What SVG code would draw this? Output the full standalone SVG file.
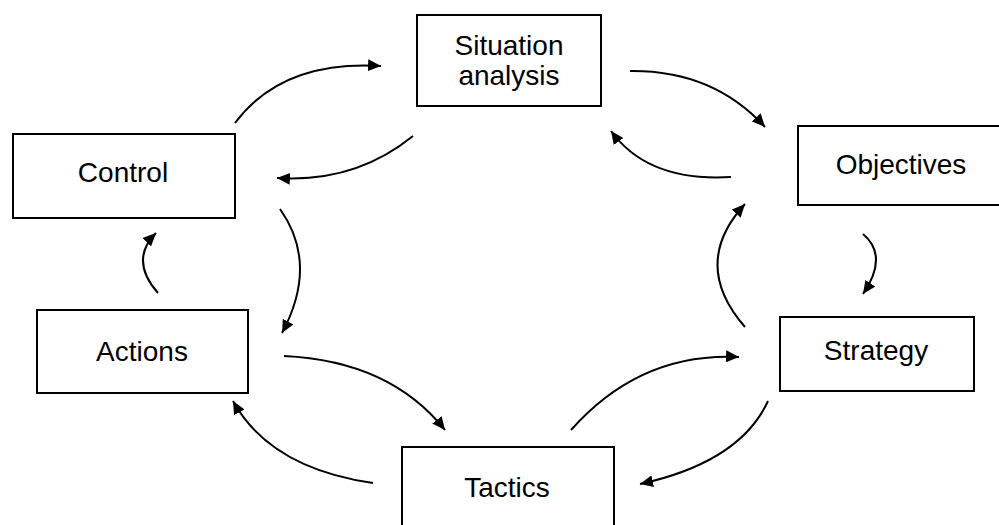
<svg xmlns="http://www.w3.org/2000/svg" width="999" height="525" viewBox="0 0 999 525">
<defs>
<style>
.box{fill:#fff;stroke:#000;stroke-width:2}
.lbl{font-family:"Liberation Sans",Arial,sans-serif;font-size:28px;fill:#000;text-anchor:middle}
.c{fill:none;stroke:#000;stroke-width:2;marker-end:url(#ah)}
</style>
<marker id="ah" markerUnits="userSpaceOnUse" markerWidth="14" markerHeight="12" viewBox="0 0 14 12" refX="13" refY="6" orient="auto">
<path d="M0,0 L13,6 L0,12 Z" fill="#000"/>
</marker>
</defs>
<rect width="999" height="525" fill="#fff"/>
<g id="situation">
<rect class="box" x="417" y="15" width="184" height="91"/>
<text class="lbl" x="509" y="55">Situation</text>
<text class="lbl" x="509" y="85">analysis</text>
</g>
<g id="objectives">
<rect class="box" x="798" y="126" width="208" height="79"/>
<text class="lbl" x="901" y="174">Objectives</text>
</g>
<g id="strategy">
<rect class="box" x="780" y="317" width="194" height="74"/>
<text class="lbl" x="876" y="360">Strategy</text>
</g>
<g id="tactics">
<rect class="box" x="402" y="447" width="212" height="90"/>
<text class="lbl" x="507" y="497">Tactics</text>
</g>
<g id="actions">
<rect class="box" x="37" y="310" width="211" height="83"/>
<text class="lbl" x="142" y="361">Actions</text>
</g>
<g id="control">
<rect class="box" x="13" y="134" width="222" height="84"/>
<text class="lbl" x="123" y="182">Control</text>
</g>
<g id="connectors">
<path class="c" d="M235,123 Q282,60 381,66"/>
<path class="c" d="M413,136 Q355,183 277,178"/>
<path class="c" d="M630,71 Q713,70 765,127"/>
<path class="c" d="M731,177 Q648,182 611,131"/>
<path class="c" d="M863,234 Q889,256 863,294"/>
<path class="c" d="M745,327 Q690,264 745,204"/>
<path class="c" d="M768,401 Q740,462 640,484"/>
<path class="c" d="M571,430 Q640,352 739,357"/>
<path class="c" d="M284,356 Q390,361 445,430"/>
<path class="c" d="M373,483 Q270,468 233,401"/>
<path class="c" d="M158,293 Q129,260 156,233"/>
<path class="c" d="M280,209 Q319,264 282,333"/>
</g>
</svg>
